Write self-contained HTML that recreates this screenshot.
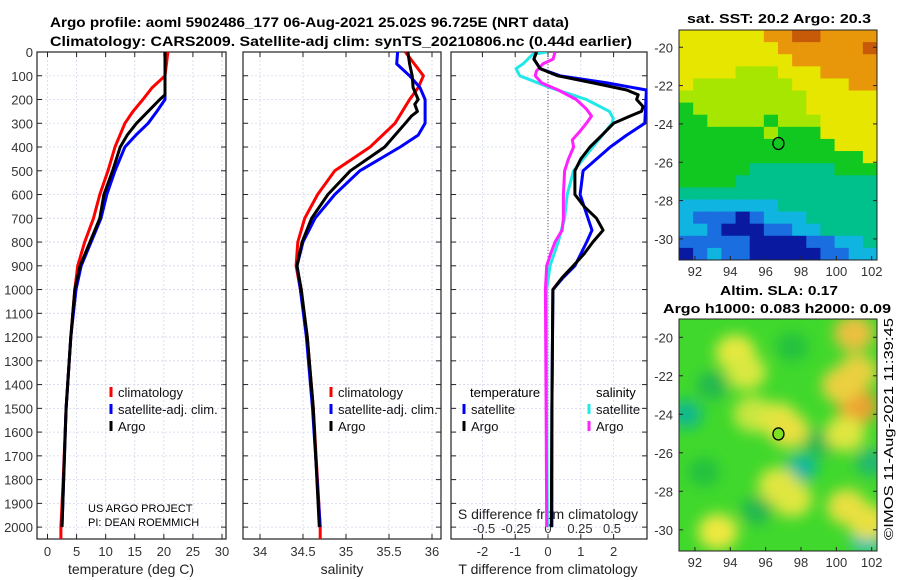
<!DOCTYPE html>
<html><head><meta charset="utf-8"><style>
body{margin:0;background:#fff;}
svg{display:block;font-family:"Liberation Sans","DejaVu Sans",sans-serif;}
</style></head><body>
<svg id="chart" width="900" height="580" viewBox="0 0 900 580">
<text x="50" y="27" font-size="14" font-weight="bold" textLength="519" lengthAdjust="spacingAndGlyphs">Argo profile: aoml 5902486_177 06-Aug-2021 25.02S 96.725E (NRT data)</text>
<text x="50" y="46" font-size="14" font-weight="bold" textLength="582" lengthAdjust="spacingAndGlyphs">Climatology: CARS2009. Satellite-adj clim: synTS_20210806.nc (0.44d earlier)</text>
<text x="779" y="23" font-size="13" font-weight="bold" text-anchor="middle" textLength="184" lengthAdjust="spacingAndGlyphs">sat. SST: 20.2 Argo: 20.3</text>
<text x="779" y="295" font-size="13" font-weight="bold" text-anchor="middle" textLength="118" lengthAdjust="spacingAndGlyphs">Altim. SLA: 0.17</text>
<text x="777" y="313" font-size="13" font-weight="bold" text-anchor="middle" textLength="228" lengthAdjust="spacingAndGlyphs">Argo h1000: 0.083 h2000: 0.09</text>
<text transform="translate(893,540) rotate(-90)" font-size="13" textLength="222" lengthAdjust="spacingAndGlyphs">©IMOS 11-Aug-2021 11:39:45</text>
<g id="g"></g>
</svg>
<script>
// ---- data ----
const depthTicks=[0,100,200,300,400,500,600,700,800,900,1000,1100,1200,1300,1400,1500,1600,1700,1800,1900,2000];
const tempTicks=[0,5,10,15,20,25,30];
const salTicks=[34,34.5,35,35.5,36];
const tdiffTicks=[-2,-1,0,1,2];
const sdiffTicks=[-0.5,-0.25,0,0.25,0.5];
const sdiffTickLabels=["-0.5","-0.25","0","0.25","0.5"];
// temperature
const tClimDepth=[0,100,150,200,250,300,400,500,600,700,800,900,1000,1200,1500,1800,2000,2050];
const tClimVal=[20.7,20.2,18.0,16.4,14.7,13.3,11.6,10.4,9.0,7.9,6.4,5.2,4.7,4.0,3.2,2.7,2.3,2.3];
const tSatDepth=[0,200,250,300,350,400,500,600,700,800,900,1000,1200,1500,2000];
const tSatVal=[20.2,20.2,18.8,17.3,15.2,13.3,11.6,10.2,9.2,7.5,5.8,4.9,4.0,3.2,2.5];
const tArgoDepth=[0,180,200,250,300,350,400,500,600,700,800,900,1000,1200,1500,2000];
const tArgoVal=[20.2,20.2,19.3,17.3,15.3,13.7,12.5,11.2,9.7,9.0,7.3,5.6,4.7,4.0,3.2,2.5];
// salinity
const sClimDepth=[0,100,150,200,300,400,500,600,700,800,900,1000,1200,1500,2000,2050];
const sClimVal=[35.69,35.9,35.84,35.74,35.57,35.28,34.87,34.67,34.52,34.44,34.42,34.47,34.55,34.62,34.70,34.70];
const sSatDepth=[0,50,100,150,200,300,350,400,500,600,700,800,900,1000,1200,1500,2000];
const sSatVal=[35.6,35.59,35.74,35.86,35.92,35.92,35.84,35.63,35.16,34.87,34.64,34.5,34.43,34.47,34.54,34.61,34.70];
const sArgoDepth=[0,50,100,150,200,220,250,270,300,400,500,600,700,800,900,1000,1200,1500,2000];
const sArgoVal=[35.72,35.74,35.77,35.78,35.84,35.8,35.83,35.76,35.69,35.45,35.05,34.79,34.6,34.49,34.43,34.48,34.55,34.62,34.69];
// differences
const dTSatDepth=[0,30,70,100,130,160,300,350,400,500,600,700,750,800,900,950,1000,1500,2000];
const dTSatVal=[-0.35,-0.43,-0.24,0.37,1.8,3.0,2.95,2.4,1.9,1.07,0.98,1.22,1.34,1.18,0.82,0.46,0.15,0.12,0.12];
const dTArgoDepth=[0,30,70,100,130,160,180,200,230,250,270,300,350,400,450,500,600,650,700,750,800,850,900,950,1000,1500,2000];
const dTArgoVal=[-0.35,-0.43,-0.24,0.3,1.37,2.4,2.75,2.7,2.9,2.85,2.5,2.0,1.65,1.28,1.0,0.82,0.82,1.1,1.48,1.68,1.37,1.1,0.77,0.43,0.15,0.12,0.1];
const dSSatDepth=[0,10,50,70,100,150,200,250,280,300,400,500,600,700,800,900,1000,1500,2000];
const dSSatVal=[-0.01,-0.12,-0.195,-0.25,-0.22,0.016,0.30,0.48,0.51,0.50,0.35,0.2,0.15,0.13,0.08,0.016,-0.01,-0.01,-0.005];
const dSArgoDepth=[0,30,50,80,100,130,160,200,240,270,300,340,370,400,450,500,600,700,750,800,850,900,1000,1500,2000];
const dSArgoVal=[0.055,0.04,-0.04,-0.09,-0.10,-0.05,0.08,0.22,0.30,0.34,0.30,0.24,0.19,0.2,0.16,0.13,0.12,0.12,0.11,0.055,0.02,-0.01,-0.02,-0.015,-0.01];
// maps
const sstRows=["YYYYYYOOBBOOOO","YYYYYYYOOOOOOB","YYYYYYYYOOOOOO","YYYYLLLYYYOOOO","YLLLLLLLYYYYOO","LLLLLLLLLYYYYY","GLLLLLLLLYYYYY","GGLLLLGLLLYYYY","GGGGGGLGGGYYYY","GGGGGGGGGGGYYY","GGGGGGGGGGGGGY","GGGGGTTTTTTGGG","GGGGTTTTTTTTTT","TTTTTTTTTTTTTT","CCCCCCCTTTTTTT","CbbbDbCCCTTTTT","CCbDDDbbCCTTTT","bbbbbDDDDbbCCT","DbCbbDDDDDbbCC"];
const sstColors={B:"#c75a08",O:"#e8960a",Y:"#e6e600",L:"#a6e600",G:"#10c820",T:"#00c08c",C:"#10b4e0",b:"#1a6ee0",D:"#0a1aa0"};
const slaBlobLon=[94.3,94.9,95.3,96.7,97.3,96.7,97.5,93.3,101,101.2,100.6,101.2,100.5,101.8,100.3];
const slaBlobLat=[-20.8,-21.8,-24,-24.3,-24.8,-27.7,-28.4,-30.1,-19.8,-23.6,-28.8,-21.8,-25,-29.6,-22.5];
const slaBlobColor=["#e8e840","#d8e840","#c8e640","#e0e640","#e8e040","#e0e640","#e0e640","#eee840","#ecc040","#eca030","#e8e040","#e8d040","#e0e640","#e8e040","#ecd040"];
const slaDarkLon=[91.5,98,101.7,93,99,95.5,92.5,97.5,102];
const slaDarkLat=[-24,-26.8,-30.5,-22.5,-25.5,-29,-27,-20.5,-26.5];
const slaDarkColor=["#10b890","#10b8a0","#10c0c0","#20b850","#20b850","#20b850","#20c040","#20c040","#20b870"];

// ---- helpers ----
const NS="http://www.w3.org/2000/svg";
const G=document.getElementById('g');
function mk(t,a,p){const e=document.createElementNS(NS,t);for(const k in a)e.setAttribute(k,a[k]);(p||G).appendChild(e);return e;}
const Y0=52,Y1=539,DMAX=2050;
function yD(d){return Y0+(Y1-Y0)*d/DMAX;}
function lin(v0,p0,v1,p1){return v=>p0+(v-v0)*(p1-p0)/(v1-v0);}
const xT=lin(0,47.5,30,222);
const xS=lin(34,260,36,432);
const xTd=lin(0,548,2,613.6);
const xSd=lin(0,548,0.5,612);
const panels=[{x0:37,x1:226,name:'temperature'},{x0:243,x1:441,name:'salinity'},{x0:451,x1:647,name:'difference'}];

panels.forEach((p,i)=>{
  const gp=mk('g',{});
  
  
  mk('rect',{x:p.x0,y:Y0,width:p.x1-p.x0,height:Y1-Y0,fill:'#fff'},gp);
  depthTicks.forEach(d=>{
    const y=yD(d);
    if(d>0){const l=mk('line',{x1:p.x0,x2:p.x1,y1:y,y2:y,stroke:'#d4d6ee','stroke-width':0.8,'stroke-dasharray':'2,2'},gp);
    }
    mk('line',{x1:p.x0,x2:p.x0+5,y1:y,y2:y,stroke:'#222'},gp);
    mk('line',{x1:p.x1-5,x2:p.x1,y1:y,y2:y,stroke:'#222'},gp);
  });
  mk('rect',{x:p.x0,y:Y0,width:p.x1-p.x0,height:Y1-Y0,fill:'none',stroke:'#222','stroke-width':1.2},gp);
});
depthTicks.forEach(d=>{
  const t=mk('text',{x:33,y:yD(d)+5,'font-size':13,'text-anchor':'end',fill:'#333'});
  t.textContent=d;
  
  
});
function xticks(ticks,labels,fx,ylab,grid){
  ticks.forEach((v,i)=>{
    const x=fx(v);
    if(grid){const l=mk('line',{x1:x,x2:x,y1:Y0,y2:Y1,stroke:'#d4d6ee','stroke-width':0.8,'stroke-dasharray':'2,2'});
      
      mk('line',{x1:x,x2:x,y1:Y1-5,y2:Y1,stroke:'#222'});mk('line',{x1:x,x2:x,y1:Y0,y2:Y0+5,stroke:'#222'});}
    const t=mk('text',{x:x,y:ylab,'font-size':13,'text-anchor':'middle',fill:'#333'});
    t.textContent=labels?labels[i]:v;
    
    
  });
}
xticks(tempTicks,null,xT,556,true);
xticks(salTicks,null,xS,556,true);
xticks(tdiffTicks,null,xTd,556,true);
xticks(sdiffTicks,sdiffTickLabels,xSd,533,false);
[["temperature (deg C)",131,574,'temperature-axis-title'],["salinity",342,574,'salinity-axis-title'],["T difference from climatology",548,574,'t-diff-axis-title'],["S difference from climatology",548,519,'s-diff-axis-title']].forEach(a=>{
  const t=mk('text',{x:a[1],y:a[2],'font-size':14,'text-anchor':'middle',fill:'#222'});t.textContent=a[0];
  
});
mk('line',{x1:548,x2:548,y1:Y0,y2:Y1,stroke:'#556','stroke-width':1,'stroke-dasharray':'1,2'});

function series(dep,val,fx,col,name,parent){
  const pts=dep.map((d,i)=>fx(val[i]).toFixed(1)+','+yD(d).toFixed(1)).join(' ');
  const pl=mk('polyline',{points:pts,fill:'none',stroke:col,'stroke-width':3,'stroke-linejoin':'round'},parent);
  
  
}
series(tClimDepth,tClimVal,xT,'#ff0000','temp-climatology-line');
series(tSatDepth,tSatVal,xT,'#0000ff','temp-satellite-line');
series(tArgoDepth,tArgoVal,xT,'#000','temp-argo-line');
series(sClimDepth,sClimVal,xS,'#ff0000','sal-climatology-line');
series(sSatDepth,sSatVal,xS,'#0000ff','sal-satellite-line');
series(sArgoDepth,sArgoVal,xS,'#000','sal-argo-line');
const cp=mk('clipPath',{id:'c3'});mk('rect',{x:451,y:Y0,width:196,height:Y1-Y0},cp);
const g3=mk('g',{'clip-path':'url(#c3)'});
series(dSSatDepth,dSSatVal,xSd,'#22e8e8','s-diff-satellite-line',g3);
series(dSArgoDepth,dSArgoVal,xSd,'#ff22ff','s-diff-argo-line',g3);
series(dTSatDepth,dTSatVal,xTd,'#0000ff','t-diff-satellite-line',g3);
series(dTArgoDepth,dTArgoVal,xTd,'#000','t-diff-argo-line',g3);

function leg(x,y,col,label,name){
  const g=mk('g',{});
  
  
  mk('line',{x1:x,x2:x,y1:y-10,y2:y,stroke:col,'stroke-width':3},g);
  const t=mk('text',{x:x+7,y:y,'font-size':13,fill:'#111'},g);t.textContent=label;
}
leg(111,397,'#ff0000','climatology','legend-temp-climatology');
leg(111,414,'#0000ff','satellite-adj. clim.','legend-temp-satellite');
leg(111,431,'#000','Argo','legend-temp-argo');
leg(331,397,'#ff0000','climatology','legend-sal-climatology');
leg(331,414,'#0000ff','satellite-adj. clim.','legend-sal-satellite');
leg(331,431,'#000','Argo','legend-sal-argo');
let t=mk('text',{x:470,y:397,'font-size':13});t.textContent='temperature';
t=mk('text',{x:596,y:397,'font-size':13});t.textContent='salinity';
leg(464,414,'#0000ff','satellite','legend-t-diff-satellite');
leg(464,431,'#000','Argo','legend-t-diff-argo');
leg(589,414,'#22e8e8','satellite','legend-s-diff-satellite');
leg(589,431,'#ff22ff','Argo','legend-s-diff-argo');
t=mk('text',{x:88,y:512,'font-size':11});t.textContent='US ARGO PROJECT';
t=mk('text',{x:88,y:526,'font-size':11});t.textContent='PI: DEAN ROEMMICH';

function mapAxes(x0,y0,x1,y1,latTop,latBot,name,drawContent){
  const lonL=91.1,lonR=102.3;
  const fx=lin(lonL,x0,lonR,x1), fy=lin(latTop,y0,latBot,y1);
  const g=mk('g',{});
  
  
  const cid='clip'+name;const c=mk('clipPath',{id:cid},g);mk('rect',{x:x0,y:y0,width:x1-x0,height:y1-y0},c);
  const inner=mk('g',{'clip-path':'url(#'+cid+')'},g);
  drawContent(inner,fx,fy);
  mk('rect',{x:x0,y:y0,width:x1-x0,height:y1-y0,fill:'none',stroke:'#222','stroke-width':1},g);
  [92,94,96,98,100,102].forEach(l=>{const x=fx(l);mk('line',{x1:x,x2:x,y1:y1-4,y2:y1,stroke:'#222'},g);
    const tt=mk('text',{x:x,y:y1+16,'font-size':13,'text-anchor':'middle',fill:'#333'},g);tt.textContent=l;
    });
  [-20,-22,-24,-26,-28,-30].forEach(l=>{const y=fy(l);mk('line',{x1:x0,x2:x0+4,y1:y,y2:y,stroke:'#222'},g);mk('line',{x1:x1-4,x2:x1,y1:y,y2:y,stroke:'#222'},g);
    const tt=mk('text',{x:x0-6,y:y+5,'font-size':13,'text-anchor':'end',fill:'#333'},g);tt.textContent=l;
    });
  const m=mk('ellipse',{cx:fx(96.725),cy:fy(-25.02),rx:5.5,ry:6,fill:name==='sla-map'?'#7ee020':'none',stroke:'#000','stroke-width':1.3},g);
  
}
mapAxes(679,30,877,260,-19.1,-31.1,'sst-map',(g,fx,fy)=>{
  const nr=sstRows.length,nc=sstRows[0].length;
  const dLon=11.2/nc,dLat=12/nr;
  for(let r=0;r<nr;r++)for(let c=0;c<nc;c++){
    const lon0=91.1+c*dLon,lat0=-19.1-r*dLat;
    const x=fx(lon0),y=fy(lat0);
    mk('rect',{x:x,y:y,width:fx(lon0+dLon)-x+0.5,height:fy(lat0-dLat)-y+0.5,fill:sstColors[sstRows[r][c]]},g);
  }
});
mapAxes(679,319,877,551,-19.05,-31.1,'sla-map',(g,fx,fy)=>{
  const f=mk('filter',{id:'bl',x:'-50%',y:'-50%',width:'200%',height:'200%'},g);
  mk('feGaussianBlur',{stdDeviation:7},f);
  mk('rect',{x:679,y:319,width:198,height:232,fill:'#40d82c'},g);
  const gb=mk('g',{filter:'url(#bl)'},g);
  slaDarkLon.forEach((l,i)=>{mk('ellipse',{cx:fx(l),cy:fy(slaDarkLat[i]),rx:16,ry:14,fill:slaDarkColor[i]},gb);});
  slaBlobLon.forEach((l,i)=>{mk('ellipse',{cx:fx(l),cy:fy(slaBlobLat[i]),rx:20,ry:18,fill:slaBlobColor[i]},gb);});
});
</script>
</body></html>
